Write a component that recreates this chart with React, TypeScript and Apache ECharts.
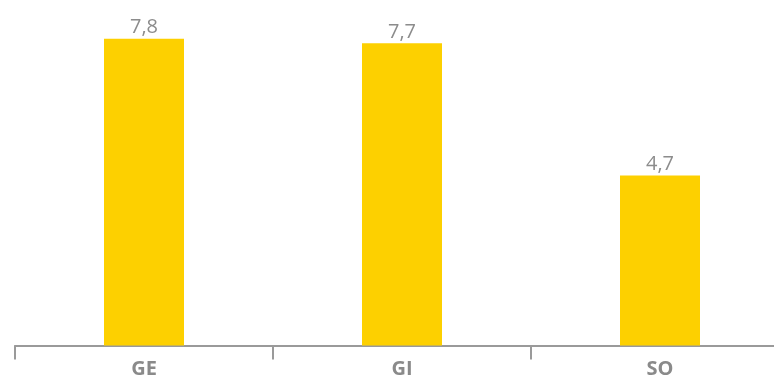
import React, { useEffect, useRef } from "react";
import * as echarts from "echarts";

const categories = ["GE", "GI", "SO"];
const values = [7.8, 7.7, 4.7];

export default function App() {
  const ref = useRef<HTMLDivElement>(null);
  useEffect(() => {
    if (!ref.current) return;
    const chart = echarts.init(ref.current, null, { renderer: "svg" });
    chart.setOption({
      animation: false,
      grid: { left: 15, right: 0, top: 0, bottom: 33.5 },
      xAxis: {
        type: "category",
        data: categories,
        axisLine: { lineStyle: { color: "#9a9a9a", width: 2 } },
        axisTick: { show: true, length: 14, lineStyle: { color: "#9a9a9a", width: 2 } },
        axisLabel: {
          margin: 11,
          color: "#8a8a8a",
          fontSize: 20,
          lineHeight: 21,
          fontWeight: "bold",
          fontFamily: "Open Sans",
        },
      },
      yAxis: {
        type: "value",
        min: 0.85,
        max: 8.68,
        show: false,
        splitLine: { show: false },
      },
      series: [
        {
          type: "bar",
          data: values,
          barWidth: 80,
          itemStyle: { color: "#FDD000" },
          label: {
            show: true,
            position: "top",
            distance: 3,
            color: "#8c8c8c",
            fontSize: 20,
            fontFamily: "Open Sans",
            formatter: (p: any) => String(p.value).replace(".", ","),
          },
        },
      ],
    });
    return () => chart.dispose();
  }, []);
  return (
    <div
      style={{
        position: "fixed",
        left: 0,
        top: 0,
        width: 774,
        height: 379,
        overflow: "hidden",
      }}
    >
      <div ref={ref} style={{ width: 789, height: 379 }} />
    </div>
  );
}
